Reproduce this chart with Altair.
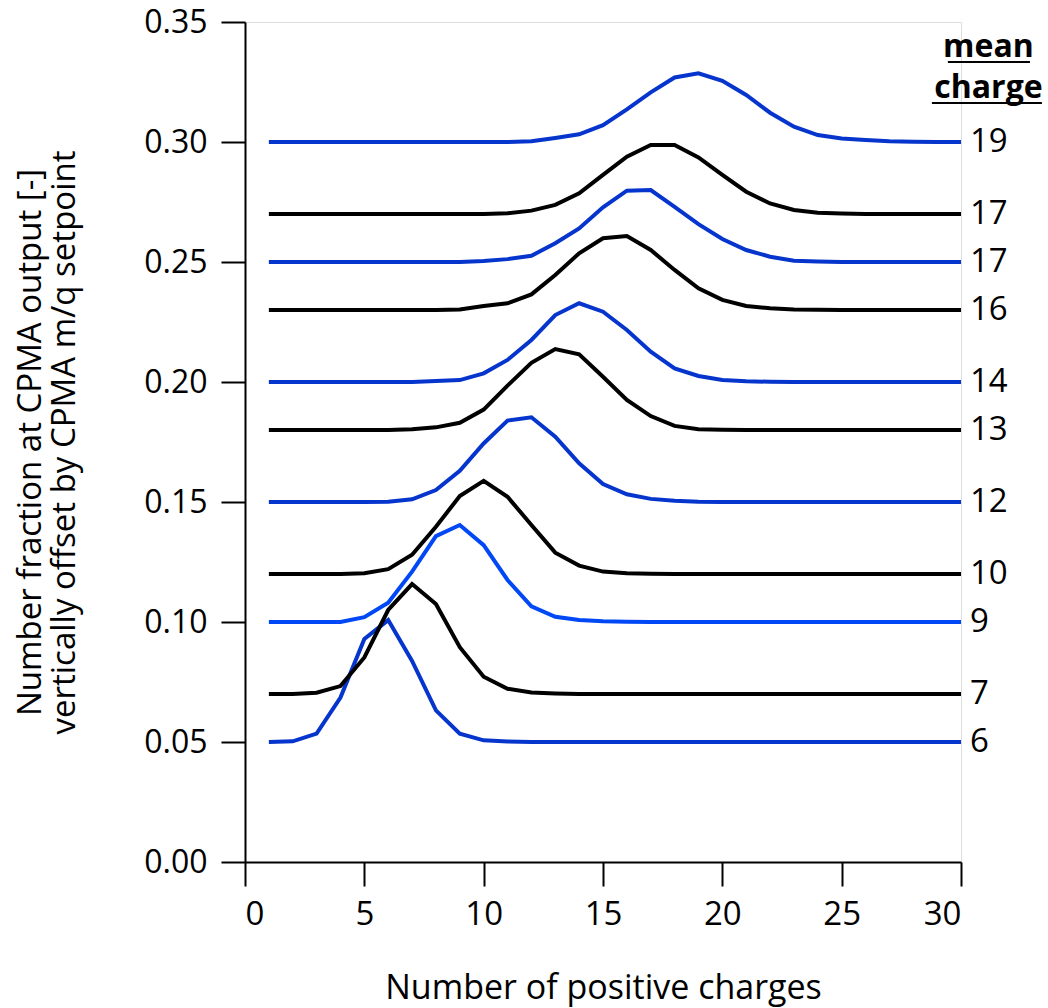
import altair as alt
import pandas as pd

FONT = "Open Sans"

x_vals = [1, 2, 3, 4, 5, 6, 7, 8, 9, 10, 11, 12, 13, 14, 15,
          16, 17, 18, 19, 20, 21, 22, 23, 24, 25, 26, 27, 28, 29, 30]

s6 = [0.0500, 0.0503, 0.0535, 0.0685, 0.0929, 0.1008, 0.0838, 0.0632, 0.0535, 0.0507,
      0.0502, 0.0500, 0.0500, 0.0500, 0.0500, 0.0500, 0.0500, 0.0500, 0.0500, 0.0500,
      0.0500, 0.0500, 0.0500, 0.0500, 0.0500, 0.0500, 0.0500, 0.0500, 0.0500, 0.0500]
s7 = [0.0700, 0.0700, 0.0705, 0.0733, 0.0852, 0.1050, 0.1158, 0.1075, 0.0895, 0.0772,
      0.0722, 0.0706, 0.0702, 0.0700, 0.0700, 0.0700, 0.0700, 0.0700, 0.0700, 0.0700,
      0.0700, 0.0700, 0.0700, 0.0700, 0.0700, 0.0700, 0.0700, 0.0700, 0.0700, 0.0700]
s9 = [0.1000, 0.1000, 0.1000, 0.1000, 0.1020, 0.1080, 0.1210, 0.1358, 0.1404, 0.1320,
      0.1175, 0.1065, 0.1022, 0.1008, 0.1003, 0.1001, 0.1000, 0.1000, 0.1000, 0.1000,
      0.1000, 0.1000, 0.1000, 0.1000, 0.1000, 0.1000, 0.1000, 0.1000, 0.1000, 0.1000]
s10 = [0.1200, 0.1200, 0.1200, 0.1200, 0.1203, 0.1220, 0.1280, 0.1397, 0.1525, 0.1588,
       0.1522, 0.1404, 0.1289, 0.1235, 0.1210, 0.1203, 0.1201, 0.1200, 0.1200, 0.1200,
       0.1200, 0.1200, 0.1200, 0.1200, 0.1200, 0.1200, 0.1200, 0.1200, 0.1200, 0.1200]
s12 = [0.1500, 0.1500, 0.1500, 0.1500, 0.1500, 0.1501, 0.1511, 0.1550, 0.1630, 0.1744,
       0.1839, 0.1853, 0.1772, 0.1661, 0.1575, 0.1532, 0.1513, 0.1505, 0.1501, 0.1500,
       0.1500, 0.1500, 0.1500, 0.1500, 0.1500, 0.1500, 0.1500, 0.1500, 0.1500, 0.1500]
s13 = [0.1800, 0.1800, 0.1800, 0.1800, 0.1800, 0.1800, 0.1803, 0.1811, 0.1830, 0.1885,
       0.1985, 0.2080, 0.2137, 0.2115, 0.2022, 0.1925, 0.1858, 0.1817, 0.1803, 0.1801,
       0.1800, 0.1800, 0.1800, 0.1800, 0.1800, 0.1800, 0.1800, 0.1800, 0.1800, 0.1800]
s14 = [0.2000, 0.2000, 0.2000, 0.2000, 0.2000, 0.2000, 0.2000, 0.2004, 0.2008, 0.2036,
       0.2092, 0.2175, 0.2279, 0.2328, 0.2293, 0.2217, 0.2126, 0.2057, 0.2025, 0.2008,
       0.2003, 0.2001, 0.2000, 0.2000, 0.2000, 0.2000, 0.2000, 0.2000, 0.2000, 0.2000]
s16 = [0.2300, 0.2300, 0.2300, 0.2300, 0.2300, 0.2300, 0.2300, 0.2300, 0.2302, 0.2317,
       0.2328, 0.2365, 0.2446, 0.2536, 0.2599, 0.2608, 0.2550, 0.2467, 0.2390, 0.2342,
       0.2317, 0.2307, 0.2302, 0.2301, 0.2300, 0.2300, 0.2300, 0.2300, 0.2300, 0.2300]
s17a = [0.2500, 0.2500, 0.2500, 0.2500, 0.2500, 0.2500, 0.2500, 0.2500, 0.2500, 0.2504,
        0.2512, 0.2526, 0.2578, 0.2640, 0.2728, 0.2797, 0.2800, 0.2730, 0.2658, 0.2596,
        0.2550, 0.2522, 0.2505, 0.2502, 0.2500, 0.2500, 0.2500, 0.2500, 0.2500, 0.2500]
s17b = [0.2700, 0.2700, 0.2700, 0.2700, 0.2700, 0.2700, 0.2700, 0.2700, 0.2700, 0.2700,
        0.2703, 0.2714, 0.2738, 0.2786, 0.2863, 0.2939, 0.2988, 0.2988, 0.2936, 0.2863,
        0.2793, 0.2744, 0.2717, 0.2705, 0.2702, 0.2700, 0.2700, 0.2700, 0.2700, 0.2700]
s19 = [0.3000, 0.3000, 0.3000, 0.3000, 0.3000, 0.3000, 0.3000, 0.3000, 0.3000, 0.3000,
       0.3000, 0.3003, 0.3017, 0.3032, 0.3070, 0.3136, 0.3207, 0.3269, 0.3286, 0.3255,
       0.3196, 0.3122, 0.3064, 0.3029, 0.3015, 0.3008, 0.3003, 0.3001, 0.3000, 0.3000]

series_names = ["s6", "s7", "s9", "s10", "s12", "s13", "s14", "s16", "s17a", "s17b", "s19"]
series_values = [s6, s7, s9, s10, s12, s13, s14, s16, s17a, s17b, s19]
series_colors = ["#0535CC", "#000000", "#0048F5", "#000000", "#0535CC", "#000000",
                 "#0535CC", "#000000", "#0535CC", "#000000", "#0535CC"]

mean_labels = ["6", "7", "9", "10", "12", "13", "14", "16", "17", "17", "19"]
label_levels = [0.05, 0.07, 0.10, 0.12, 0.15, 0.18, 0.20, 0.23, 0.25, 0.27, 0.30]

header_text = ["mean", "charge"]
header_x = [31.15, 31.15]
header_y = [0.3395, 0.3225]
underline_x1 = [29.45, 28.78]
underline_x2 = [32.89, 33.39]
underline_y = [0.3333, 0.3163]

rows = []
for name, vals in zip(series_names, series_values):
    for xv, yv in zip(x_vals, vals):
        rows.append({"series": name, "x": xv, "y": yv})
df = pd.DataFrame(rows)

lab_df = pd.DataFrame({"label": mean_labels, "y": label_levels, "x": [30] * len(mean_labels)})
head_df = pd.DataFrame({"text": header_text, "x": header_x, "y": header_y})
ul_df = pd.DataFrame({"x1": underline_x1, "x2": underline_x2, "y": underline_y})

xscale = alt.Scale(domain=[0, 30], nice=False, zero=False)
yscale = alt.Scale(domain=[0, 0.35], nice=False)

lines = alt.Chart(df).mark_line(strokeWidth=4, strokeJoin="miter").encode(
    x=alt.X("x:Q", scale=xscale,
            axis=alt.Axis(values=[0, 5, 10, 15, 20, 25, 30], format="d",
                          title="Number of positive charges", grid=False,
                          tickSize=24, tickWidth=2, domainWidth=2,
                          domainColor="black", tickColor="black",
                          labelFontSize=33, labelFont=FONT, labelColor="black",
                          labelPadding=12, titleFontSize=34, titleFont=FONT,
                          titleFontWeight="normal", titleColor="black",
                          titlePadding=40)),
    y=alt.Y("y:Q", scale=yscale,
            axis=alt.Axis(values=[0, 0.05, 0.1, 0.15, 0.2, 0.25, 0.3, 0.35], format=".2f",
                          title=["Number fraction at CPMA output [-]",
                                 "vertically offset by CPMA m/q setpoint"],
                          grid=False, tickSize=24, tickWidth=2, domainWidth=2,
                          domainColor="black", tickColor="black",
                          labelFontSize=32, labelFont=FONT, labelColor="black",
                          labelPadding=14, titleFontSize=33, titleFont=FONT,
                          titleFontWeight="normal", titleColor="black",
                          titlePadding=62, titleLineHeight=34)),
    color=alt.Color("series:N", scale=alt.Scale(domain=series_names, range=series_colors),
                    legend=None),
    detail="series:N",
)

labels = alt.Chart(lab_df).mark_text(align="left", baseline="middle", dx=9,
                                     fontSize=33, font=FONT, color="black").encode(
    x=alt.X("x:Q", scale=xscale), y=alt.Y("y:Q", scale=yscale), text="label:N")

header = alt.Chart(head_df).mark_text(align="center", baseline="middle", fontSize=32,
                                      font=FONT, fontWeight="bold", color="black").encode(
    x=alt.X("x:Q", scale=xscale), y=alt.Y("y:Q", scale=yscale), text="text:N")

underline = alt.Chart(ul_df).mark_rule(color="black", strokeWidth=2).encode(
    x=alt.X("x1:Q", scale=xscale), x2="x2:Q", y=alt.Y("y:Q", scale=yscale))

chart = alt.layer(lines, labels, header, underline).properties(
    width=716, height=840,
    padding={"left": 245, "top": 22, "right": 87, "bottom": 146},
    autosize=alt.AutoSizeParams(type="none"),
).configure_view(stroke=None).configure(background="white")

chart.save("out.html", embed_options={"renderer": "svg", "actions": False})
